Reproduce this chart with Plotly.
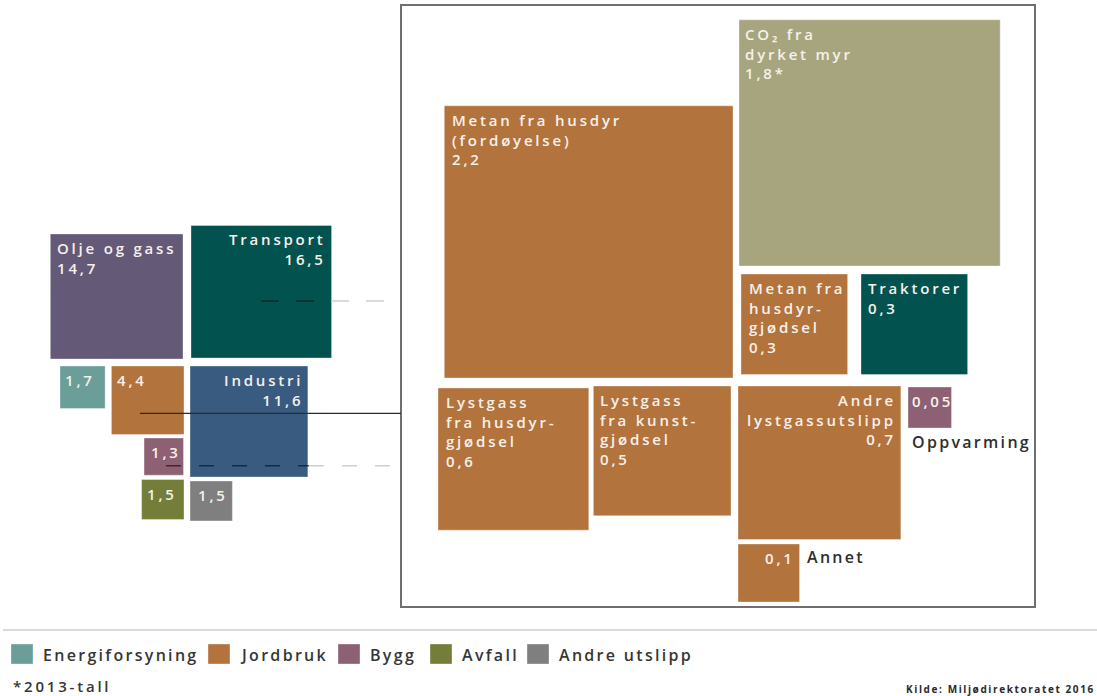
import math
import plotly.graph_objects as go

# Klimagassutslipp etter sektor (mill. tonn CO2-ekvivalenter)
sector_names = ["Olje og gass", "Transport", "Energiforsyning", "Jordbruk",
                "Industri", "Bygg", "Avfall", "Andre utslipp"]
sector_values = [14.7, 16.5, 1.7, 4.4, 11.6, 1.3, 1.5, 1.5]

# Utslipp knyttet til jordbruket
farm_names = ["Metan fra husdyr (fordøyelse)", "CO2 fra dyrket myr", "Metan fra husdyrgjødsel",
              "Traktorer", "Lystgass fra husdyrgjødsel", "Lystgass fra kunstgjødsel",
              "Andre lystgassutslipp", "Oppvarming", "Annet"]
farm_values = [2.2, 1.8, 0.3, 0.3, 0.6, 0.5, 0.7, 0.05, 0.1]
farm_groups = ["Jordbruk", "Myr", "Jordbruk", "Transport", "Jordbruk", "Jordbruk",
               "Jordbruk", "Bygg", "Jordbruk"]
farm_footnote = ["", "*", "", "", "", "", "", "", ""]

legend_names = ["Energiforsyning", "Jordbruk", "Bygg", "Avfall", "Andre utslipp"]

# ---- styling -------------------------------------------------------------
COLORS = {
    "Olje og gass": "#645a78",
    "Transport": "#02534f",
    "Energiforsyning": "#6b9d99",
    "Jordbruk": "#b3733d",
    "Industri": "#395b7f",
    "Bygg": "#8d6073",
    "Avfall": "#747e38",
    "Andre utslipp": "#7f7f7f",
    "Myr": "#a7a57e",
}
FONT = "Open Sans"
BOX_TEXT = "#f6f1ea"
DARK_TEXT = "#2e2e2e"

# text lines shown inside each box (value line appended automatically)
sector_text = [["Olje og gass"], ["Transport"], [], [], ["Industri"], [], [], []]
sector_align = ["left", "right", "left", "left", "right", "left", "left", "left"]
sector_pad = [5, 6, 3, 4, 6, 5, 3, 6]
# anchor point of each box and which corner sits on it
sector_anchor = [(183, 359, "br"), (191, 358, "bl"), (60, 366, "tl"), (184, 366, "tr"),
                 (190, 366, "tl"), (183.5, 438, "tr"), (184, 479.5, "tr"), (190, 481, "tl")]

farm_text = [["Metan fra husdyr", "(fordøyelse)"], ["CO₂ fra", "dyrket myr"],
             ["Metan fra", "husdyr-", "gjødsel"], ["Traktorer"],
             ["Lystgass", "fra husdyr-", "gjødsel"], ["Lystgass", "fra kunst-", "gjødsel"],
             ["Andre", "lystgassutslipp"], [], []]
farm_align = ["left", "left", "left", "left", "left", "left", "right", "left", "right"]
farm_pad = [6, 4, 6, 5, 6, 5, 6, 2, 5]
farm_anchor = [(733, 378, "br"), (739, 266, "bl"), (741, 274, "tl"), (861, 274, "tl"),
               (438, 388, "tl"), (731, 386, "tr"), (738, 386, "tl"), (908, 387, "tl"),
               (738, 544, "tl")]

SECTOR_SCALE = 33.6   # px per sqrt(mill. tonn)
FARM_SCALE = 189.0    # enlarged scale for the jordbruk detail
ASPECT = 1.03
FS = 15               # label font size
LS = 2.8              # letter spacing, px
LEGEND_LS = 2.3

W, H = 1097, 696


def fmt(v):
    s = f"{v:.2f}".rstrip("0")
    if s.endswith("."):
        s += "0"
    return s.replace(".", ",")


def box(value, anchor, scale):
    ax, ay, corner = anchor
    side = scale * math.sqrt(value)
    w, h = side * ASPECT, side / ASPECT
    x0 = ax if corner[1] == "l" else ax - w
    y0 = ay if corner[0] == "t" else ay - h
    return x0, y0, x0 + w, y0 + h


def spaced(lines, ls=LS):
    return "<br>".join(f"<span style='letter-spacing:{ls}px'>{t}</span>" for t in lines)


fig = go.Figure()
annotations = []


def add_rect(x0, y0, x1, y1, color, name):
    fig.add_trace(go.Scatter(
        x=[x0, x1, x1, x0, x0], y=[y0, y0, y1, y1, y0],
        mode="lines", fill="toself", fillcolor=color,
        line=dict(width=1, color="rgba(255,255,255,0.35)"),
        hoverinfo="text", text=name, showlegend=False))


def add_text(x, y, lines, align, color=BOX_TEXT, size=FS, weight=600, ls=LS,
             yanchor="middle"):
    annotations.append(dict(
        x=x + (ls if align == "right" else 0), y=y, xref="x", yref="y",
        text=spaced(lines, ls), showarrow=False, xanchor=align, yanchor=yanchor,
        align=align, font=dict(family=FONT, size=size, color=color, weight=weight)))


def add_box_labels(rect, lines, align, pad):
    x0, y0, x1, y1 = rect
    x = x0 + pad if align == "left" else x1 - pad
    add_text(x, y0 + 2, lines, align, yanchor="top")


# sector overview
for name, val, lines, align, pad, anc in zip(sector_names, sector_values, sector_text,
                                             sector_align, sector_pad, sector_anchor):
    r = box(val, anc, SECTOR_SCALE)
    add_rect(*r, COLORS[name], f"{name}: {fmt(val)}")
    add_box_labels(r, lines + [fmt(val)], align, pad)

# jordbruk detail
farm_rects = []
for name, val, grp, note, lines, align, pad, anc in zip(
        farm_names, farm_values, farm_groups, farm_footnote, farm_text,
        farm_align, farm_pad, farm_anchor):
    r = box(val, anc, FARM_SCALE)
    farm_rects.append(r)
    add_rect(*r, COLORS[grp], f"{name}: {fmt(val)}")
    add_box_labels(r, lines + [fmt(val) + note], align, pad)

# names written next to the two smallest boxes
r_opp = farm_rects[farm_names.index("Oppvarming")]
add_text(r_opp[0] + 2, r_opp[3] + 13.5, ["Oppvarming"], "left", color=DARK_TEXT, size=16,
         ls=LEGEND_LS)
r_ann = farm_rects[farm_names.index("Annet")]
add_text(r_ann[2] + 5, r_ann[1] + 12.5, ["Annet"], "left", color=DARK_TEXT, size=16,
         ls=LEGEND_LS)

# legend
legend_x = [11, 208, 338, 430, 527]
for name, lx in zip(legend_names, legend_x):
    add_rect(lx, 644, lx + 22, 664, COLORS[name], name)
    add_text(lx + 30, 655, [name], "left", color="#363636", size=16, ls=LEGEND_LS)

add_text(11, 686, ["*2013-tall"], "left", color="#363636", size=15)
add_text(1095, 689, ["Kilde: Miljødirektoratet 2016"], "right", color="#2a2a2a",
         size=10, weight=700, ls=1.6)

shapes = [
    # frame around the jordbruk detail
    dict(type="rect", x0=401, x1=1035, y0=5, y1=607, xref="x", yref="y",
         line=dict(color="#6f6f6f", width=2), layer="above"),
    # connector lines
    dict(type="line", x0=261, x1=331, y0=301, y1=301, xref="x", yref="y",
         line=dict(color="rgba(20,20,20,0.75)", width=1.5, dash="18px,17px"), layer="above"),
    dict(type="line", x0=331, x1=401, y0=301, y1=301, xref="x", yref="y",
         line=dict(color="#cfcfcf", width=1.5, dash="18px,17px"), layer="above"),
    dict(type="line", x0=140, x1=401, y0=413.3, y1=413.3, xref="x", yref="y",
         line=dict(color="#2b2b2b", width=1.2), layer="above"),
    dict(type="line", x0=166, x1=309, y0=465.7, y1=465.7, xref="x", yref="y",
         line=dict(color="rgba(20,20,20,0.7)", width=1.5, dash="15px,18px"), layer="above"),
    dict(type="line", x0=309, x1=401, y0=465.7, y1=465.7, xref="x", yref="y",
         line=dict(color="#cfcfcf", width=1.5, dash="15px,18px"), layer="above"),
    # separator above the legend
    dict(type="line", x0=3, x1=W, y0=630, y1=630, xref="x", yref="y",
         line=dict(color="#dadada", width=2), layer="above"),
]

fig.update_layout(
    width=W, height=H, margin=dict(l=0, r=0, t=0, b=0),
    paper_bgcolor="white", plot_bgcolor="white", showlegend=False,
    xaxis=dict(range=[0, W], visible=False, fixedrange=True),
    yaxis=dict(range=[H, 0], visible=False, fixedrange=True),
    annotations=annotations, shapes=shapes,
)

fig.write_html("out.html")
